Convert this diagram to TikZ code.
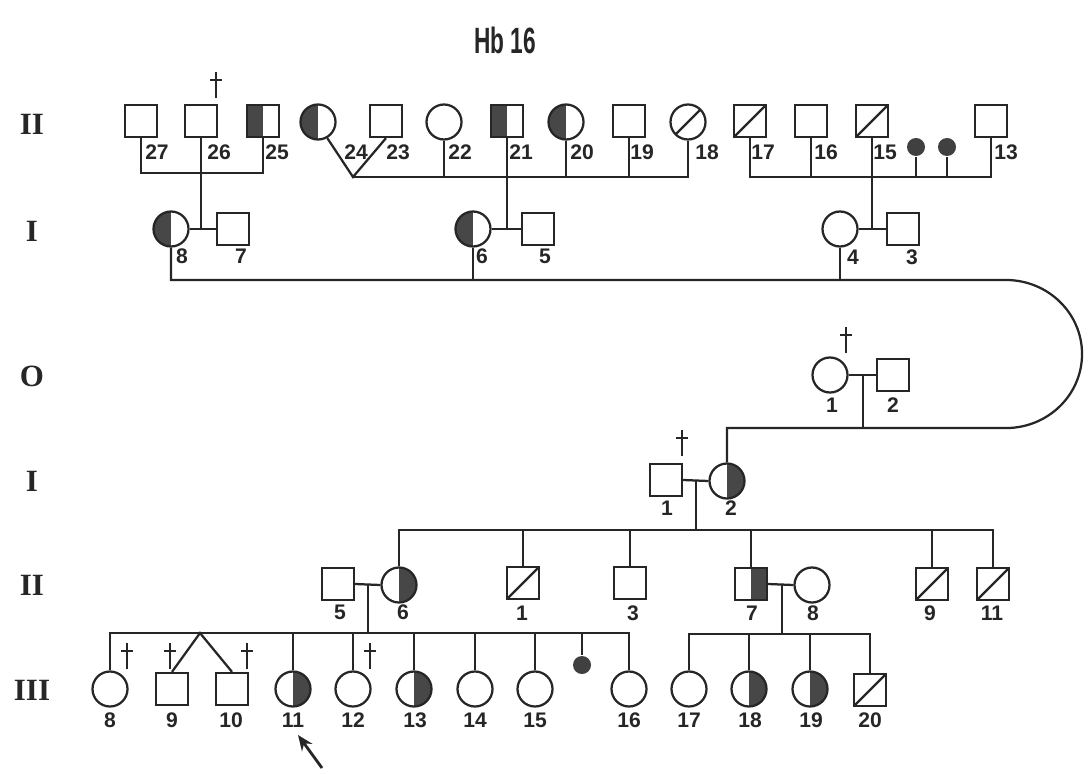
\documentclass[tikz,border=0pt]{standalone}
\usepackage{fontspec}
\setmainfont{Liberation Sans}
\newfontfamily\romfont{Liberation Serif}
\usetikzlibrary{arrows.meta}
\begin{document}
\begin{tikzpicture}[x=0.025cm,y=-0.025cm,
  line width=1.6pt, draw=black!85,
  sq/.style={draw=black!85, rectangle, minimum size=0.8cm, inner sep=0pt, line width=1.6pt},
  ci/.style={draw=black!85, circle, minimum size=0.875cm, inner sep=0pt, line width=1.6pt},
  sm/.style={circle, fill=black!75, minimum size=0.45cm, inner sep=0pt},
  lh/.style={path picture={\fill[black!72] (path picture bounding box.north west) rectangle (path picture bounding box.south);}},
  rh/.style={path picture={\fill[black!72] (path picture bounding box.north) rectangle (path picture bounding box.south east);}},
  sl/.style={path picture={\draw[black!85,line width=1.6pt] (path picture bounding box.south west) -- (path picture bounding box.north east);}},
  lab/.style={font=\fontsize{15}{15}\selectfont\bfseries, inner sep=0pt, text=black!85},
  gen/.style={font=\romfont\fontsize{22}{22}\selectfont\bfseries, inner sep=0pt, text=black!85},
  deadmark/.pic={\draw[black!85,line width=1.4pt] (0,0) -- (0,26); \draw[black!85,line width=1.4pt] (-6,8) -- (6,8);}
]
\fill[white] (0,0) rectangle (1089,774);
\useasboundingbox (0,0) rectangle (1089,774);

% title
\node[font=\fontsize{26}{26}\selectfont\bfseries, text=black!85, xscale=0.62, inner sep=0pt] (title) at (505,40) {Hb 16};

% generation labels
\node[gen] (g1) at (32,124) {II};
\node[gen] (g2) at (32,231) {I};
\node[gen] (g3) at (32,376) {O};
\node[gen] (g4) at (32,481) {I};
\node[gen] (g5) at (32,585) {II};
\node[gen] (g6) at (32,690) {III};

% ---------- top row ----------
\node[sq] (t27) at (141,121) {};
\node[sq] (t26) at (201,121) {};
\node[sq,lh] (t25) at (263,121) {};
\node[ci,lh] (t24) at (318,122) {};
\node[sq] (t23) at (386,121) {};
\node[ci] (t22) at (444,122) {};
\node[sq,lh] (t21) at (507,121) {};
\node[ci,lh] (t20) at (566,122) {};
\node[sq] (t19) at (629,121) {};
\node[ci,sl] (t18) at (688,122) {};
\node[sq,sl] (t17) at (750,121) {};
\node[sq] (t16) at (811,121) {};
\node[sq,sl] (t15) at (872,121) {};
\node[sm] (t14a) at (916,147) {};
\node[sm] (t14b) at (947,147) {};
\node[sq] (t13) at (991,121) {};

\node[lab] (lt27) at (157,152) {27};
\node[lab] (lt26) at (219,152) {26};
\node[lab] (lt25) at (277,152) {25};
\node[lab] (lt24) at (356,152) {24};
\node[lab] (lt23) at (398,152) {23};
\node[lab] (lt22) at (460,152) {22};
\node[lab] (lt21) at (521,152) {21};
\node[lab] (lt20) at (582,152) {20};
\node[lab] (lt19) at (642,152) {19};
\node[lab] (lt18) at (707,152) {18};
\node[lab] (lt17) at (763,152) {17};
\node[lab] (lt16) at (826,152) {16};
\node[lab] (lt15) at (885,152) {15};
\node[lab] (lt13) at (1006,152) {13};

\pic at (216,72) {deadmark};

% ---------- generation I (upper) ----------
\node[ci,lh] (i8) at (171,229) {};
\node[sq] (i7) at (233,229) {};
\node[ci,lh] (i6) at (473,229) {};
\node[sq] (i5) at (538,229) {};
\node[ci] (i4) at (840,229) {};
\node[sq] (i3) at (903,229) {};
\node[lab] (li8) at (182,256) {8};
\node[lab] (li7) at (241,256) {7};
\node[lab] (li6) at (482,256) {6};
\node[lab] (li5) at (545,256) {5};
\node[lab] (li4) at (853,257) {4};
\node[lab] (li3) at (912,257) {3};

% ---------- generation O ----------
\node[ci] (o1) at (830,375) {};
\node[sq] (o2) at (893,375) {};
\node[lab] (lo1) at (832,405) {1};
\node[lab] (lo2) at (893,405) {2};
\pic at (846,327) {deadmark};

% ---------- generation I (lower) ----------
\node[sq] (j1) at (666,480) {};
\node[ci,rh] (j2) at (727,481) {};
\node[lab] (lj1) at (667,508) {1};
\node[lab] (lj2) at (731,508) {2};
\pic at (682,430) {deadmark};

% ---------- generation II (lower) ----------
\node[sq] (b5) at (338,584) {};
\node[ci,rh] (b6) at (399,585) {};
\node[sq,sl] (b1) at (523,583) {};
\node[sq] (b3) at (630,583) {};
\node[sq,rh] (b7) at (751,584) {};
\node[ci] (b8) at (812,585) {};
\node[sq,sl] (b9) at (932,584) {};
\node[sq,sl] (b11) at (993,584) {};
\node[lab] (lb5) at (340,612) {5};
\node[lab] (lb6) at (403,612) {6};
\node[lab] (lb1) at (522,613) {1};
\node[lab] (lb3) at (633,613) {3};
\node[lab] (lb7) at (752,613) {7};
\node[lab] (lb8) at (813,613) {8};
\node[lab] (lb9) at (930,613) {9};
\node[lab] (lb11) at (992,613) {11};

% ---------- generation III ----------
\node[ci] (c8) at (110,689) {};
\node[sq] (c9) at (172,689) {};
\node[sq] (c10) at (232,689) {};
\node[ci,rh] (c11) at (293,689) {};
\node[ci] (c12) at (353,689) {};
\node[ci,rh] (c13) at (414,689) {};
\node[ci] (c14) at (475,689) {};
\node[ci] (c15) at (535,689) {};
\node[sm] (cs) at (582,665) {};
\node[ci] (c16) at (629,689) {};
\node[ci] (c17) at (689,689) {};
\node[ci,rh] (c18) at (749,689) {};
\node[ci,rh] (c19) at (810,689) {};
\node[sq,sl] (c20) at (870,690) {};
\node[lab] (lc8) at (110,720) {8};
\node[lab] (lc9) at (172,720) {9};
\node[lab] (lc10) at (231,720) {10};
\node[lab] (lc11) at (293,720) {11};
\node[lab] (lc12) at (353,720) {12};
\node[lab] (lc13) at (415,720) {13};
\node[lab] (lc14) at (475,720) {14};
\node[lab] (lc15) at (535,720) {15};
\node[lab] (lc16) at (629,720) {16};
\node[lab] (lc17) at (689,720) {17};
\node[lab] (lc18) at (750,720) {18};
\node[lab] (lc19) at (811,720) {19};
\node[lab] (lc20) at (870,720) {20};
\pic at (127,643) {deadmark};
\pic at (170,643) {deadmark};
\pic at (247,643) {deadmark};
\pic at (370,643) {deadmark};

% ---------- connectors ----------
% group A
\coordinate (jA) at (201,173);
\draw (t27.south) |- (jA) -| (t25.south);
\draw (t26.south) -- (jA) -- (jA |- i8.east);
% group B
\coordinate (tw1) at (353,177);
\draw (t24.-60) -- (tw1) -- (t23.south);
\draw (tw1) -| (t18.south);
\foreach \n in {t22,t20,t19} \draw (\n.south) -- (\n.south |- tw1);
\draw (t21.south) -- (t21.south |- i6.east);
% group C
\coordinate (hC) at (872,177);
\draw (t17.south) |- (hC) -| (t13.south);
\foreach \n in {t16,t14a,t14b} \draw (\n.south) -- (\n.south |- hC);
\draw (t15.south) -- (t15.south |- i4.east);
% couples gen I
\draw (i8.east) -- (i7.west);
\draw (i6.east) -- (i5.west);
\draw (i4.east) -- (i3.west);
% long line with curve
\coordinate (L1) at (1006,280);
\coordinate (L2) at (1006,428);
\draw (i8.south) |- (L1) arc[start angle=90, end angle=-90, x radius=1.9cm, y radius=1.85cm] -- (j2.north |- L2) -- (j2.north);
\draw (i6.south) -- (i6.south |- L1);
\draw (i4.south) -- (i4.south |- L1);
% generation O
\draw (o1.east) -- (o2.west);
\coordinate (jO) at (863,375);
\draw (jO) -- (jO |- L2);
% lower generation I
\draw (j1.east) -- (j2.west);
\coordinate (jJ) at (696,480);
\coordinate (hS) at (696,530);
\draw (jJ) -- (hS);
\draw (b6.north) |- (hS) -| (b11.north);
\foreach \n in {b1,b3,b7,b9} \draw (\n.north) -- (\n.north |- hS);
% generation II couples
\draw (b5.east) -- (b6.west);
\draw (b7.east) -- (b8.west);
\coordinate (j56) at (368,585);
\coordinate (hL) at (368,633);
\draw (j56) -- (hL);
\coordinate (j78) at (782,585);
\coordinate (hR) at (782,634);
\draw (j78) -- (hR);
% generation III
\draw (c8.north) |- (hL) -| (c16.north);
\coordinate (tw2) at (200,633);
\draw (c9.north) -- (tw2) -- (c10.north);
\foreach \n in {c11,c12,c13,c14,c15,cs} \draw (\n.north) -- (\n.north |- hL);
\draw (c17.north) |- (hR) -| (c20.north);
\foreach \n in {c18,c19} \draw (\n.north) -- (\n.north |- hR);

% proband arrow
\coordinate (pa) at (322,768);
\coordinate (pb) at (298,735);
\draw[line width=2pt, -{Stealth[length=11pt,width=9pt]}] (pa) -- (pb);
\end{tikzpicture}
\end{document}
